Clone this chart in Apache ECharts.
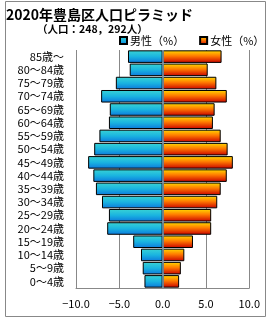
<!DOCTYPE html>
<html><head><meta charset="utf-8">
<script src="https://cdn.jsdelivr.net/npm/echarts@6/dist/echarts.min.js"></script>
<style>html,body{margin:0;padding:0;background:#fff}#c{width:270px;height:320px}</style>
</head><body><div id="c"></div>
<script>
const categories = ["0～4歳","5～9歳","10～14歳","15～19歳","20～24歳","25～29歳","30～34歳","35～39歳","40～44歳","45～49歳","50～54歳","55～59歳","60～64歳","65～69歳","70～74歳","75～79歳","80～84歳","85歳～"];
const male = [-2.1,-2.3,-2.5,-3.4,-6.4,-6.2,-7.0,-7.7,-8.0,-8.6,-7.9,-7.3,-6.2,-6.1,-7.1,-5.4,-3.8,-4.0];
const female = [1.9,2.1,2.5,3.5,5.6,5.6,6.3,6.7,7.4,8.1,7.5,6.7,5.8,6.0,7.4,6.2,5.2,6.8];
const xTicks = [-10, -5, 0, 5, 10];
const titleText = "2020年豊島区人口ピラミッド";
const subText = "（人口：248，292人）";
const seriesNames = ["男性（%）","女性（%）"];

const FONT = '"Noto Sans CJK JP", sans-serif';
const maleGrad = new echarts.graphic.LinearGradient(0,0,0,1,[
  {offset:0,color:'#3ad4d4'},{offset:0.5,color:'#1ab4e0'},{offset:1,color:'#0c78dc'}]);
const femaleGrad = new echarts.graphic.LinearGradient(0,0,0,1,[
  {offset:0,color:'#ffdc00'},{offset:0.45,color:'#ff7a00'},{offset:1,color:'#c80000'}]);

const chart = echarts.init(document.getElementById('c'), null, {renderer:'canvas'});
chart.setOption({
  animation:false,
  backgroundColor:'#fff',
  title:[
    {text:titleText, left:6, top:8, padding:0, textStyle:{fontFamily:FONT, fontSize:14, fontWeight:'bold', color:'#000'}},
    {text:subText, left:37, top:24, padding:0, textStyle:{fontFamily:FONT, fontSize:10.5, fontWeight:'bold', color:'#000'}}
  ],
  legend:{
    data:seriesNames, orient:'horizontal', left:119, top:35, width:200, padding:0, itemWidth:7, itemHeight:7, itemGap:15,
    icon:'rect',
    textStyle:{fontFamily:FONT, fontSize:11, color:'#000', padding:[0,0,0,-2]}
  },
  grid:{left:76, right:20.7, top:50, bottom:32, containLabel:false},
  xAxis:{
    type:'value', min:-10, max:10, interval:5,
    axisLine:{show:true, lineStyle:{color:'#888', width:1}},
    axisTick:{show:false},
    splitLine:{show:true, lineStyle:{color:'#888', width:1}},
    axisLabel:{margin:10, fontFamily:FONT, fontSize:11, color:'#000',
      formatter:v => (v<0?'−':'') + Math.abs(v).toFixed(1)}
  },
  yAxis:{
    type:'category', data:categories,
    axisLine:{show:false, onZero:false}, axisTick:{show:false},
    axisLabel:{interval:0, margin:12, fontFamily:FONT, fontSize:11, color:'#000'}
  },
  graphic:[{type:'rect', shape:{x:5.5,y:1.5,width:260,height:315}, style:{fill:'none', stroke:'#888', lineWidth:1}, z:-1}],
  series:[
    {name:seriesNames[0], type:'bar', data:male, barGap:'-100%', barCategoryGap:'5%',
     itemStyle:{color:maleGrad, borderColor:'#000', borderWidth:1},
     markLine:{silent:true, symbol:'none', label:{show:false}, lineStyle:{color:'#7f9bb0', width:1.5, type:'solid'}, data:[{xAxis:0}]}},
    {name:seriesNames[1], type:'bar', data:female, barGap:'-100%', barCategoryGap:'5%',
     itemStyle:{color:femaleGrad, borderColor:'#000', borderWidth:1}}
  ]
});
</script></body></html>
